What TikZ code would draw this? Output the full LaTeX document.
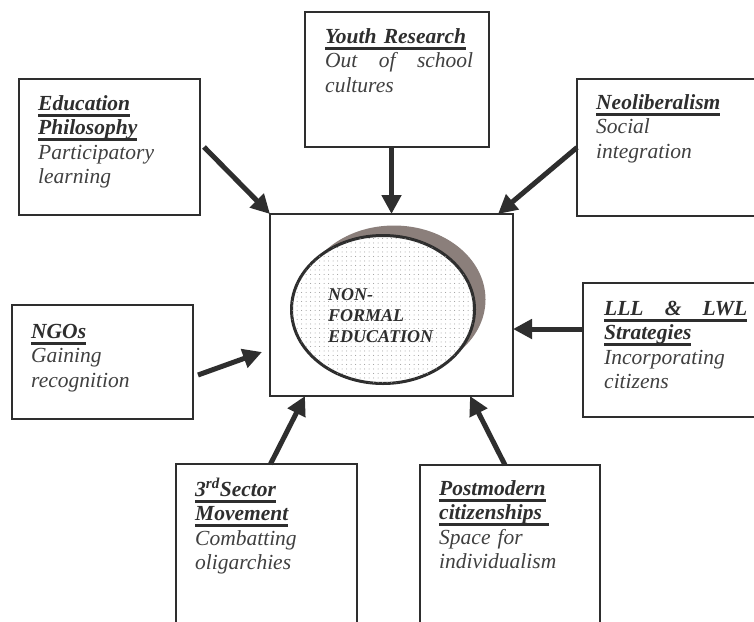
\documentclass[tikz,border=0pt]{standalone}
\usepackage{fontspec}
\setmainfont{Liberation Serif}
\usetikzlibrary{arrows.meta,shapes.geometric,patterns.meta,calc}

\definecolor{ink}{HTML}{2E2E2E}
\definecolor{bodytext}{HTML}{404040}
\definecolor{shade}{HTML}{8B7F7B}

% heavy underline used for the box headings
\newcommand\headul[1]{\leavevmode\setbox0=\hbox{#1}\rlap{\rule[-6.5pt]{\wd0}{2.8pt}}\box0}
\newcommand\head[1]{\leavevmode{\bfseries\itshape\color{ink}\headul{#1}}}
% a line spread over a given width
\newcommand\spread[2]{\leavevmode\hbox to #1{#2}}

\tikzset{
  box/.style={draw=ink, line width=1.5pt, inner sep=0pt, outer sep=0pt, anchor=north west},
  boxtext/.style={anchor=north west, inner sep=0pt, align=left, text width=165pt,
    font=\fontsize{21.5}{24.5}\selectfont\itshape, text=bodytext},
  feed/.style={draw=ink, line width=5pt, -{Triangle[length=19pt,width=19pt]}},
}

\begin{document}
\begin{tikzpicture}[x=1pt,y=-1pt]
  \fill[white] (0,0) rectangle (754,621);
  \useasboundingbox (0,0) rectangle (754,621);
  \clip (0,0) rectangle (754,621);

  % central frame with the ellipse and its shadow
  \node[box, minimum width=243pt, minimum height=182pt] (bCenter) at (270,214) {};
  \node[ellipse, fill=shade, inner sep=0pt, minimum width=183pt, minimum height=148pt] (ellShade) at (394,299.5) {};
  \node[ellipse, draw=ink, line width=3pt, fill=white, inner sep=0pt,
        minimum width=183pt, minimum height=148pt,
        postaction={pattern={Dots[distance=4.5pt,radius=0.5pt]}, pattern color=gray!85}] (ell) at (383,309.5) {};
  \node[anchor=north west, inner sep=0pt, align=left, text width=130pt, text=ink,
        font=\fontsize{18}{21}\selectfont\bfseries\itshape] (core) at (328,285.3)
        {\strut NON-\\FORMAL\\EDUCATION};

  % surrounding boxes
  \node[box, minimum width=181pt, minimum height=136pt] (bEdu) at (19,79) {};
  \node[box, minimum width=184pt, minimum height=135pt] (bYouth) at (305,12) {};
  \node[box, minimum width=190pt, minimum height=137pt] (bNeo) at (577,79) {};
  \node[box, minimum width=181pt, minimum height=114pt] (bNgo) at (12,305) {};
  \node[box, minimum width=190pt, minimum height=134pt] (bLll) at (583,283) {};
  \node[box, minimum width=181pt, minimum height=180pt] (bThird) at (176,464) {};
  \node[box, minimum width=180pt, minimum height=180pt] (bPost) at (420,465) {};

  % box texts
  \node[boxtext] (tEdu) at (38,92.9)
    {\strut\head{Education}\\\head{Philosophy}\\Participatory\\learning};
  \node[boxtext] (tYouth) at (325,25.9)
    {\strut\head{Youth Research}\\\spread{148pt}{Out\hfill of\hfill school}\\cultures};
  \node[boxtext] (tNeo) at (596,91.9)
    {\strut\head{Neoliberalism}\\Social\\integration};
  \node[boxtext] (tNgo) at (31,320.9)
    {\strut\head{NGOs}\\Gaining\\recognition};
  \node[boxtext] (tLll) at (604,297.9)
    {\strut\head{\spread{143pt}{LLL\hfill\&\hfill LWL}}\\\head{Strategies}\\Incorporating\\citizens};
  \node[boxtext] (tThird) at (195,477.9)
    {\strut\head{3\textsuperscript{rd}Sector}\\\head{Movement}\\Combatting\\oligarchies};
  \node[boxtext] (tPost) at (439,477.9)
    {\strut\head{Postmodern}\\\head{citizenships\ }\\Space for\\individualism};

  % arrows into the central frame
  \draw[feed] ($(bEdu.east)+(4,0)$) -- (bCenter.north west);
  \draw[feed] (bYouth.south -| bCenter.north) -- (bCenter.north);
  \draw[feed] (bNeo.west) -- ($(bCenter.north east)+(-15,0)$);
  \draw[feed] ($(bNgo.east)+(5,13)$) -- ($(bCenter.west)+(-8,47)$);
  \draw[feed] ($(bLll.west)+(0,-21)$) coordinate (lllStart) -- (lllStart -| bCenter.east);
  \draw[feed] ($(bThird.north)+(4,0)$) -- ($(bCenter.south west)+(35,0)$);
  \draw[feed] ($(bPost.north)+(-5,0)$) -- ($(bCenter.south east)+(-43,0)$);
\end{tikzpicture}
\end{document}
